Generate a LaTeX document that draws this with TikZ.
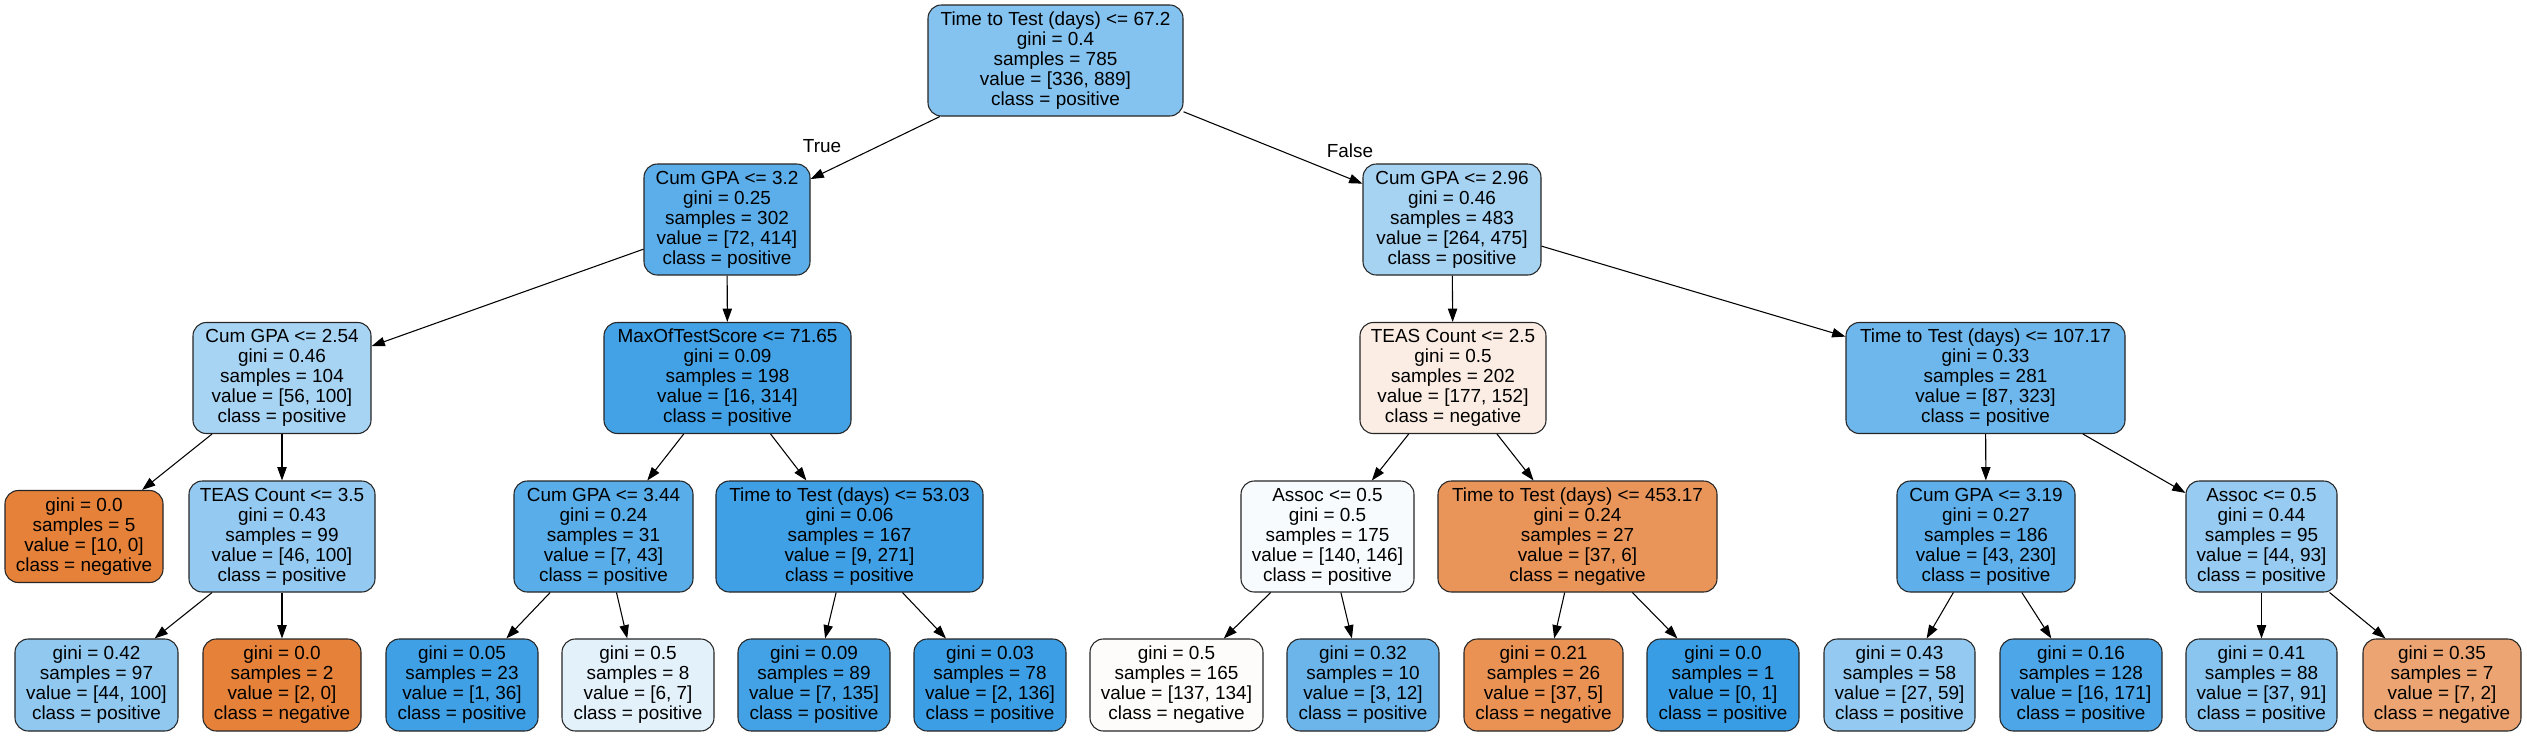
\documentclass[tikz,border=0pt]{standalone}
\usepackage{fontspec}
\setmainfont{Liberation Sans}
\usetikzlibrary{arrows.meta}
\definecolor{pos}{RGB}{57,157,229}
\definecolor{neg}{RGB}{229,129,57}
\tikzset{
 box/.style={draw=black!85, line width=0.8pt, rounded corners=10pt, align=center, inner sep=1pt, font=\fontsize{14.2}{15}\selectfont},
 int/.style={box, minimum height=83.25pt},
 leaf/.style={box, minimum height=69pt},
 bw/.style={minimum width={#1*0.75pt}},
 edge/.style={draw=black, line width=0.8pt, -{Triangle[length=10pt,width=7pt]}},
 lbl/.style={font=\fontsize{14.2}{15}\selectfont, inner sep=0pt}
}
\begin{document}
\begin{tikzpicture}[x=0.75pt,y=-0.75pt]
\useasboundingbox (0,0) rectangle (2527,736);
\fill[white] (0,0) rectangle (2527,736);
% level 0
\node[int, bw=255, fill=pos!62.2!white] (n0) at (1055.5,60.5) {Time to Test (days) <= 67.2\\gini = 0.4\\samples = 785\\value = [336, 889]\\class = positive};
% level 1
\node[int, bw=166, fill=pos!82.6!white] (n1) at (727,219.5) {Cum GPA <= 3.2\\gini = 0.25\\samples = 302\\value = [72, 414]\\class = positive};
\node[int, bw=178, fill=pos!44.4!white] (n2) at (1452,219.5) {Cum GPA <= 2.96\\gini = 0.46\\samples = 483\\value = [264, 475]\\class = positive};
% level 2
\node[int, bw=178, fill=pos!44!white] (n3) at (282,378) {Cum GPA <= 2.54\\gini = 0.46\\samples = 104\\value = [56, 100]\\class = positive};
\node[int, bw=247, fill=pos!94.9!white] (n4) at (727.5,378) {MaxOfTestScore <= 71.65\\gini = 0.09\\samples = 198\\value = [16, 314]\\class = positive};
\node[int, bw=186, fill=neg!14.1!white] (n5) at (1453,378) {TEAS Count <= 2.5\\gini = 0.5\\samples = 202\\value = [177, 152]\\class = negative};
\node[int, bw=279, fill=pos!73.1!white] (n6) at (1985.5,378) {Time to Test (days) <= 107.17\\gini = 0.33\\samples = 281\\value = [87, 323]\\class = positive};
% level 3
\node[leaf, bw=158, fill=neg] (n7) at (84,536.5) {gini = 0.0\\samples = 5\\value = [10, 0]\\class = negative};
\node[int, bw=186, fill=pos!54!white] (n8) at (282,536.5) {TEAS Count <= 3.5\\gini = 0.43\\samples = 99\\value = [46, 100]\\class = positive};
\node[int, bw=179, fill=pos!83.7!white] (n9) at (603.5,536.5) {Cum GPA <= 3.44\\gini = 0.24\\samples = 31\\value = [7, 43]\\class = positive};
\node[int, bw=267, fill=pos!96.7!white] (n10) at (849.5,536.5) {Time to Test (days) <= 53.03\\gini = 0.06\\samples = 167\\value = [9, 271]\\class = positive};
\node[int, bw=173, fill=pos!4.1!white] (n11) at (1327.5,536.5) {Assoc <= 0.5\\gini = 0.5\\samples = 175\\value = [140, 146]\\class = positive};
\node[int, bw=279, fill=neg!83.8!white] (n12) at (1577.5,536.5) {Time to Test (days) <= 453.17\\gini = 0.24\\samples = 27\\value = [37, 6]\\class = negative};
\node[int, bw=178, fill=pos!81.3!white] (n13) at (1986,536.5) {Cum GPA <= 3.19\\gini = 0.27\\samples = 186\\value = [43, 230]\\class = positive};
\node[int, bw=151, fill=pos!52.7!white] (n14) at (2261.5,536.5) {Assoc <= 0.5\\gini = 0.44\\samples = 95\\value = [44, 93]\\class = positive};
% level 4
\node[leaf, bw=163, fill=pos!56!white] (l1) at (96.5,685) {gini = 0.42\\samples = 97\\value = [44, 100]\\class = positive};
\node[leaf, bw=158, fill=neg] (l2) at (282,685) {gini = 0.0\\samples = 2\\value = [2, 0]\\class = negative};
\node[leaf, bw=152, fill=pos!97.2!white] (l3) at (462,685) {gini = 0.05\\samples = 23\\value = [1, 36]\\class = positive};
\node[leaf, bw=152, fill=pos!14.3!white] (l4) at (638,685) {gini = 0.5\\samples = 8\\value = [6, 7]\\class = positive};
\node[leaf, bw=152, fill=pos!94.8!white] (l5) at (814,685) {gini = 0.09\\samples = 89\\value = [7, 135]\\class = positive};
\node[leaf, bw=152, fill=pos!98.5!white] (l6) at (990,685) {gini = 0.03\\samples = 78\\value = [2, 136]\\class = positive};
\node[leaf, bw=173, fill=neg!2.2!white] (l7) at (1176.5,685) {gini = 0.5\\samples = 165\\value = [137, 134]\\class = negative};
\node[leaf, bw=152, fill=pos!75!white] (l8) at (1363,685) {gini = 0.32\\samples = 10\\value = [3, 12]\\class = positive};
\node[leaf, bw=159, fill=neg!86.5!white] (l9) at (1543.5,685) {gini = 0.21\\samples = 26\\value = [37, 5]\\class = negative};
\node[leaf, bw=152, fill=pos] (l10) at (1723,685) {gini = 0.0\\samples = 1\\value = [0, 1]\\class = positive};
\node[leaf, bw=151, fill=pos!54.2!white] (l11) at (1899.5,685) {gini = 0.43\\samples = 58\\value = [27, 59]\\class = positive};
\node[leaf, bw=162, fill=pos!90.6!white] (l12) at (2081,685) {gini = 0.16\\samples = 128\\value = [16, 171]\\class = positive};
\node[leaf, bw=151, fill=pos!59.3!white] (l13) at (2261.5,685) {gini = 0.41\\samples = 88\\value = [37, 91]\\class = positive};
\node[leaf, bw=158, fill=neg!71.4!white] (l14) at (2442,685) {gini = 0.35\\samples = 7\\value = [7, 2]\\class = negative};
% edges
\draw[edge] (n0) -- (n1);
\draw[edge] (n0) -- (n2);
\draw[edge] (n1) -- (n3);
\draw[edge] (n1) -- (n4);
\draw[edge] (n2) -- (n5);
\draw[edge] (n2) -- (n6);
\draw[edge] (n3) -- (n7);
\draw[edge] (n3) -- (n8);
\draw[edge] (n8) -- (l1);
\draw[edge] (n8) -- (l2);
\draw[edge] (n4) -- (n9);
\draw[edge] (n4) -- (n10);
\draw[edge] (n9) -- (l3);
\draw[edge] (n9) -- (l4);
\draw[edge] (n10) -- (l5);
\draw[edge] (n10) -- (l6);
\draw[edge] (n5) -- (n11);
\draw[edge] (n5) -- (n12);
\draw[edge] (n11) -- (l7);
\draw[edge] (n11) -- (l8);
\draw[edge] (n12) -- (l9);
\draw[edge] (n12) -- (l10);
\draw[edge] (n6) -- (n13);
\draw[edge] (n6) -- (n14);
\draw[edge] (n13) -- (l11);
\draw[edge] (n13) -- (l12);
\draw[edge] (n14) -- (l13);
\draw[edge] (n14) -- (l14);
% edge labels
\node[lbl] (lt) at (822,146) {True};
\node[lbl] (lf) at (1350,151) {False};
\end{tikzpicture}
\end{document}
